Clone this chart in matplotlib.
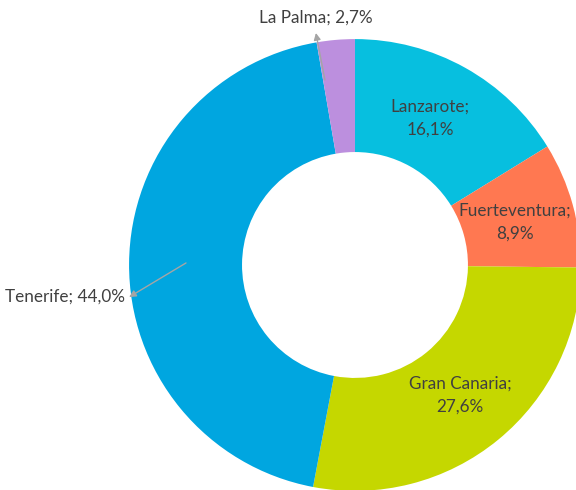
import matplotlib.pyplot as plt

islands = ['Lanzarote', 'Fuerteventura', 'Gran Canaria', 'Tenerife', 'La Palma']
shares = [16.1, 8.9, 27.6, 44.0, 2.7]
colors = ['#07BFDF', '#FF7851', '#C5D700', '#00A6E0', '#BC8FDE']

plt.rcParams['font.family'] = ['Lato', 'DejaVu Sans']

fig = plt.figure(figsize=(5.76, 4.9), dpi=100)
ax = fig.add_axes([0, 0, 1, 1])
ax.pie(shares, colors=colors, startangle=90, counterclock=False,
       radius=1, wedgeprops=dict(width=0.5, linewidth=0))
ax.set_xlim(-1.571, 0.978)
ax.set_ylim(-0.996, 1.173)
ax.set_aspect('equal')
ax.axis('off')

txt = '#404040'
fs = 12.3
arrow = dict(arrowstyle='-|>', color='#A5A5A5', lw=1, shrinkA=0, shrinkB=0, mutation_scale=10)
lab = [f'{n};\n{v:.1f}%'.replace('.', ',') for n, v in zip(islands, shares)]
ax.text(0.332, 0.650, lab[0], ha='center', va='center', color=txt, fontsize=fs, linespacing=1.55)
ax.text(0.708, 0.190, lab[1], ha='center', va='center', color=txt, fontsize=fs, linespacing=1.55)
ax.text(0.465, -0.575, lab[2], ha='center', va='center', color=txt, fontsize=fs, linespacing=1.55)

ax.annotate('', xy=(-1.0, -0.142), xytext=(-0.748, 0.009), arrowprops=arrow)
ax.text(-1.018, -0.142, lab[3].replace('\n', ' '), ha='right', va='center', color=txt, fontsize=fs)
ax.annotate('', xy=(-0.173, 1.027), xytext=(-0.133, 0.819), arrowprops=arrow)
ax.text(-0.173, 1.097, lab[4].replace('\n', ' '), ha='center', va='center', color=txt, fontsize=fs)

fig.savefig('out.png', dpi=100)
